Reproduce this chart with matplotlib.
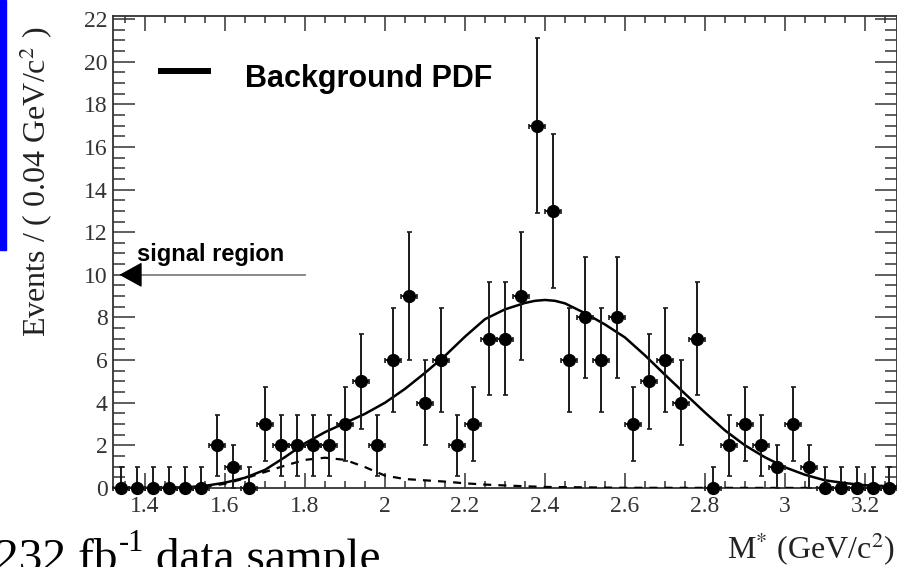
import numpy as np
import matplotlib.pyplot as plt
from matplotlib.lines import Line2D
from matplotlib.patches import Rectangle

plt.rcParams['mathtext.fontset'] = 'stix'
plt.rcParams['font.family'] = ['Liberation Serif', 'DejaVu Serif']

# 0.04 GeV/c^2 bins, centres from 1.34 to 3.26
mass = np.round(1.34 + 0.04 * np.arange(49), 2)
counts = np.array([0, 0, 0, 0, 0, 0, 2, 1, 0, 3, 2, 2, 2, 2, 3, 5, 2, 6, 9, 4,
                   6, 2, 3, 7, 7, 9, 17, 13, 6, 8, 6, 8, 3, 5, 6, 4, 7, 0, 2, 3,
                   2, 1, 3, 1, 0, 0, 0, 0, 0])

# total fit (solid)
fit_x = [1.32, 1.40, 1.45, 1.50, 1.55, 1.60, 1.65, 1.70, 1.75, 1.80, 1.85, 1.90,
         1.95, 2.00, 2.05, 2.10, 2.15, 2.20, 2.25, 2.30, 2.35, 2.375, 2.40, 2.425,
         2.45, 2.50, 2.55, 2.60, 2.65, 2.70, 2.75, 2.80, 2.85, 2.90, 2.95, 3.00,
         3.05, 3.10, 3.15, 3.20, 3.25, 3.28]
fit_y = [0.0, 0.0, 0.01, 0.03, 0.10, 0.25, 0.48, 0.85, 1.45, 2.10, 2.62, 3.05,
         3.48, 4.00, 4.65, 5.40, 6.20, 7.10, 7.92, 8.38, 8.68, 8.78, 8.82, 8.78,
         8.66, 8.20, 7.67, 7.06, 6.22, 5.31, 4.42, 3.54, 2.70, 2.00, 1.44, 0.97,
         0.62, 0.36, 0.23, 0.13, 0.09, 0.07]

# small bump component (dashed)
bump_x = [1.32, 1.50, 1.55, 1.60, 1.65, 1.70, 1.75, 1.80, 1.85, 1.90, 1.95, 2.00,
          2.05, 2.10, 2.15, 2.20, 2.25, 2.30, 2.35, 2.40, 2.50, 2.60, 3.28]
bump_y = [0.0, 0.0, 0.05, 0.20, 0.45, 0.75, 1.05, 1.32, 1.42, 1.32, 0.98, 0.58,
          0.42, 0.36, 0.30, 0.22, 0.16, 0.12, 0.08, 0.05, 0.03, 0.01, 0.0]

W, H = 897, 567
fig = plt.figure(figsize=(W / 100, H / 100), dpi=100)
ax = fig.add_axes([113 / W, (H - 488) / H, (W - 113) / W, (488 - 16) / H])

err = np.sqrt(counts)
lo = err
hi = np.where(counts == 0, 1.0, err)
eb = ax.errorbar(mass, counts, yerr=[lo, hi], xerr=0.02, fmt='o', color='black',
                 ecolor='#1a1a1a', elinewidth=1.4, capsize=1.8, capthick=1.2,
                 markersize=8.5, zorder=4)
for a in eb.get_children():
    a.set_clip_on(False)

ax.plot(fit_x, fit_y, color='black', lw=1.8, zorder=3)
ax.plot(bump_x, bump_y, color='black', lw=1.6, linestyle=(0, (3.6, 3.2)), zorder=3)

ax.set_xlim(1.32, 3.28)
ax.set_ylim(0, 22.14)
ax.set_xticks(np.round(np.arange(1.4, 3.21, 0.2), 1))
ax.set_xticklabels(['1.4', '1.6', '1.8', '2', '2.2', '2.4', '2.6', '2.8', '3', '3.2'])
ax.set_xticks(np.arange(1.35, 3.28, 0.05), minor=True)
ax.set_yticks(np.arange(0, 23, 2))
ax.set_yticks(np.arange(0, 22.1, 0.5), minor=True)

ax.tick_params(axis='both', which='both', direction='in', top=True, right=True,
               color='#333333', width=1.1, labelcolor='#333333', labelsize=17)
ax.tick_params(axis='x', which='major', length=10.8, pad=6)
ax.tick_params(axis='x', which='minor', length=5)
ax.tick_params(axis='y', which='major', length=15.8, pad=4)
ax.tick_params(axis='y', which='minor', length=8.6)
for s in ax.spines.values():
    s.set_linewidth(1.3)
    s.set_color('#333333')

# signal region arrow
ax.plot([1.80, 1.37], [10, 10], color='#808080', lw=1.3, zorder=2)
ax.annotate('', xy=(1.336, 10), xytext=(1.38, 10),
            arrowprops=dict(arrowstyle='-|>,head_length=1.45,head_width=0.8',
                            color='black', lw=1.0, shrinkA=0, shrinkB=0))
fig.text(137 / W, 1 - 261 / H, 'signal region', fontsize=17, fontweight='bold',
         family='Liberation Sans', va='baseline', ha='left')

# legend
fig.add_artist(Line2D([161 / W, 208 / W], [1 - 71 / H, 1 - 71 / H], color='black', lw=4.3))
fig.text(245 / W, 1 - 87 / H, 'Background PDF', fontsize=22, fontweight='bold',
         family='Liberation Sans', va='baseline', ha='left')

# axis titles
fig.text(36 / W, 1 - 182 / H, r'Events / ( 0.04 GeV/c$^{2}$ )', fontsize=23,
         rotation=90, ha='center', va='center', color='#222222')
fig.text(895 / W, 1 - 559 / H, r'M$^{*}$ (GeV/c$^{2}$)', fontsize=23,
         ha='right', va='baseline', color='#222222')

# slide decorations
fig.add_artist(Rectangle((0, 1 - 250 / H), 6 / W, 250 / H, color='#0000ff',
                         transform=fig.transFigure))
renderer = fig.canvas.get_renderer()
y0 = -4 / H
t1 = fig.text(-5 / W, y0, '232 fb', fontsize=34, ha='left', va='baseline')
bb = t1.get_window_extent(renderer)
t2 = fig.text(bb.x1 / W + 1 / W, y0 + 20 / H, '-1', fontsize=22, ha='left', va='baseline')
bb2 = t2.get_window_extent(renderer)
fig.text(bb2.x1 / W, y0, ' data sample', fontsize=34, ha='left', va='baseline')

fig.savefig('out.png', dpi=100)
